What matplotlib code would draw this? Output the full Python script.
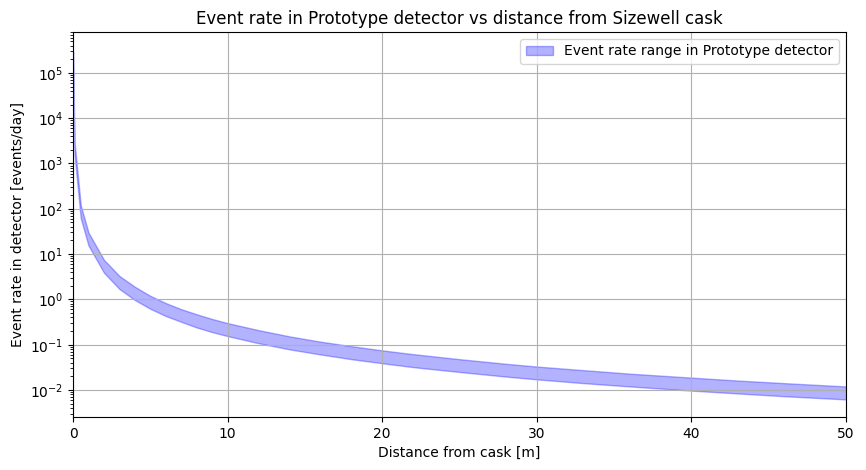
import matplotlib
matplotlib.use("Agg")
import matplotlib.pyplot as plt

# distance from cask [m] and event rate band [events/day]
distance = [0, 0.1, 0.5, 1, 2, 3, 4, 5, 6, 7, 8, 9, 10, 12, 14, 16, 18, 20,
            22, 25, 28, 30, 33, 36, 40, 43, 46, 50]
rate_high = [3.0e5, 3000, 120, 30, 7.5, 3.3, 1.9, 1.2, 0.83, 0.61, 0.47, 0.37,
             0.30, 0.21, 0.153, 0.117, 0.093, 0.075, 0.062, 0.048, 0.038, 0.033,
             0.0275, 0.023, 0.0188, 0.0162, 0.0142, 0.012]
rate_low = [1.6e5, 1550, 62, 15.5, 3.9, 1.7, 0.97, 0.62, 0.43, 0.32, 0.24, 0.19,
            0.155, 0.108, 0.079, 0.061, 0.048, 0.039, 0.032, 0.025, 0.0198, 0.0172,
            0.0142, 0.012, 0.0097, 0.0084, 0.0073, 0.0062]

fig = plt.figure(figsize=(8.66, 4.7), dpi=100)
ax = fig.add_axes([0.0843, 0.1128, 0.8927, 0.8192])

ax.fill_between(distance, rate_low, rate_high, color="blue", alpha=0.3,
                label="Event rate range in Prototype detector")
ax.set_yscale("log")
ax.set_xlim(0, 50)
ax.set_ylim(2.54e-3, 8.0e5)
ax.grid(True)
ax.set_xlabel("Distance from cask [m]")
ax.set_ylabel("Event rate in detector [events/day]")
ax.set_title("Event rate in Prototype detector vs distance from Sizewell cask")
ax.legend(loc="upper right")

fig.savefig("out.png", dpi=100)
